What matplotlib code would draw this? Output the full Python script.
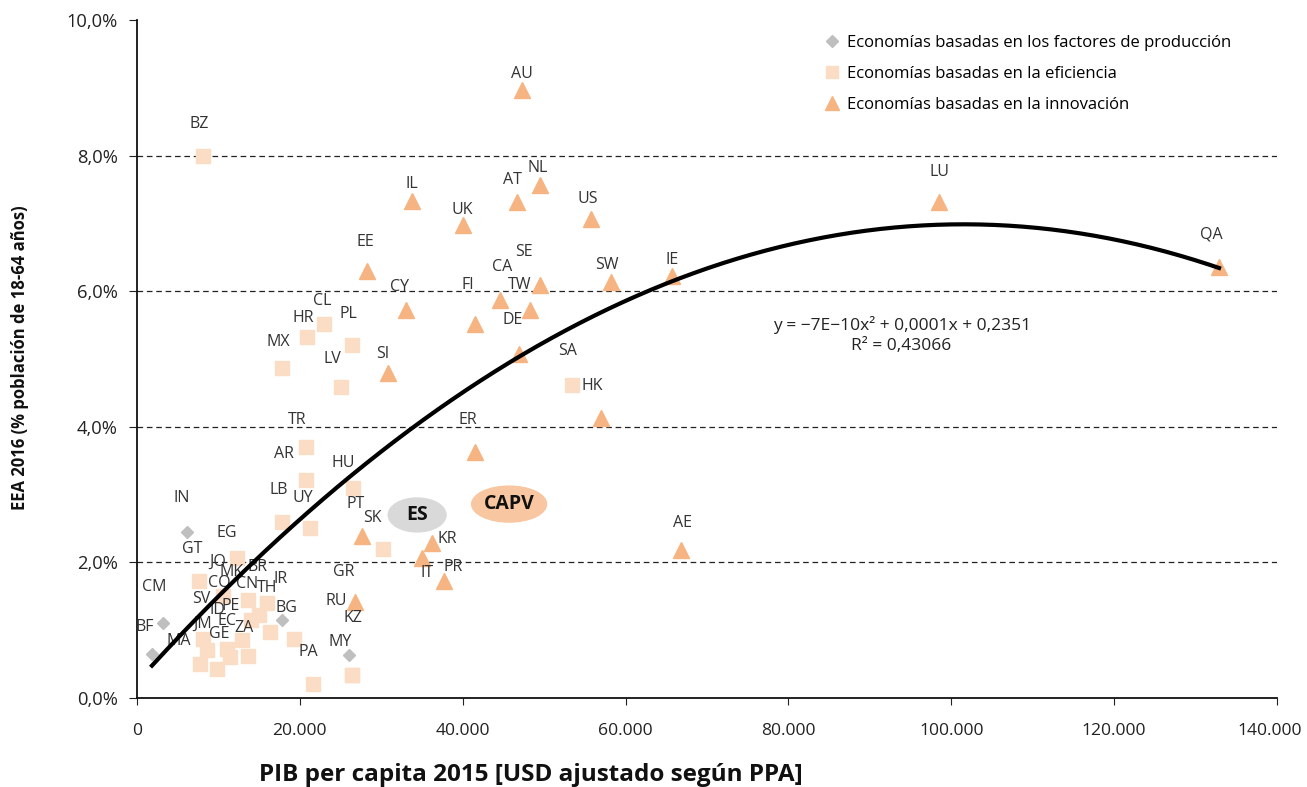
import numpy as np
import matplotlib
matplotlib.use("Agg")
import matplotlib.pyplot as plt
from matplotlib.patches import Ellipse
from matplotlib.transforms import ScaledTranslation

plt.rcParams["font.family"] = ["Open Sans", "DejaVu Sans"]

# Economías basadas en los factores de producción (PIB en USD, EEA en %)
factor_codes = ["IN", "CM", "BF", "IR", "KZ"]
factor_pib = [6140, 3190, 1840, 17810, 26030]
factor_eea = [2.45, 1.10, 0.65, 1.15, 0.63]

# Economías basadas en la eficiencia
eff_codes = ["EG", "GT", "JO", "MK", "BR", "TH", "CN", "MA", "BG", "CO",
             "SV", "ID", "PE", "EC", "ZA", "JM", "GE", "PA", "MY", "RU",
             "SK", "LB", "UY", "HU", "AR", "TR", "LV", "MX", "HR", "CL",
             "PL", "BZ", "SA"]
eff_pib = [12280, 7610, 10560, 13630, 15960, 14980, 14000, 16330, 19280, 12890,
           8110, 8600, 11050, 11420, 13630, 7740, 9820, 21610, 26400, 26400,
           30210, 17810, 21250, 26530, 20750, 20750, 25050, 17810, 20880, 22960,
           26400, 8110, 53420]
eff_eea = [2.07, 1.72, 1.51, 1.44, 1.40, 1.22, 1.15, 0.97, 0.87, 0.85,
           0.87, 0.71, 0.73, 0.60, 0.62, 0.50, 0.43, 0.21, 0.34, 0.34,
           2.20, 2.60, 2.51, 3.10, 3.22, 3.70, 4.58, 4.86, 5.32, 5.52,
           5.20, 8.00, 4.61]

# Economías basadas en la innovación
inn_codes = ["AU", "IL", "NL", "AT", "UK", "US", "LU", "QA", "IE", "SW",
             "SE", "TW", "CA", "FI", "DE", "EE", "CY", "SI", "ER", "HK",
             "AE", "PT", "KR", "IT", "PR", "GR"]
inn_pib = [47280, 33770, 49490, 46670, 40030, 55750, 98490, 132880, 65680, 58210,
           49490, 48260, 44580, 41510, 46910, 28250, 33030, 30820, 41510, 56980,
           66810, 27630, 36230, 35000, 37700, 26770]
inn_eea = [8.97, 7.33, 7.56, 7.31, 6.98, 7.06, 7.31, 6.36, 6.23, 6.14,
           6.09, 5.73, 5.87, 5.52, 5.07, 6.30, 5.73, 4.79, 3.63, 4.13,
           2.19, 2.39, 2.28, 2.06, 1.72, 1.42]

# Regiones destacadas
highlight_names = ["ES", "CAPV"]
highlight_pib = [34400, 45700]
highlight_eea = [2.70, 2.86]

# Línea de tendencia polinómica (EEA % frente a PIB USD)
trend_coef = [-6.55e-10, 1.33e-4, 0.2351]

x_ticks = [0, 20000, 40000, 60000, 80000, 100000, 120000, 140000]
x_tick_labels = ["0", "20.000", "40.000", "60.000", "80.000", "100.000", "120.000", "140.000"]
y_ticks = [0, 2, 4, 6, 8, 10]
y_tick_labels = ["0,0%", "2,0%", "4,0%", "6,0%", "8,0%", "10,0%"]
grid_levels = [2, 4, 6, 8]

# desplazamiento de cada etiqueta respecto a su punto (píxeles)
label_offsets = {
    "IN": (-5, 34), "CM": (-9, 36), "BF": (-7, 27), "IR": (-1, 41), "KZ": (4, 37),
    "EG": (-10, 25), "GT": (-7, 32), "JO": (-5, 34), "MK": (-16, 28), "BR": (-9, 36),
    "TH": (8, 27), "CN": (-4, 36), "MA": (-91, -9), "BG": (-8, 31), "CO": (-23, 57),
    "SV": (-2, 40), "ID": (10, 40), "PE": (4, 43), "EC": (-3, 36), "ZA": (-4, 28),
    "JM": (3, 40), "GE": (2, 35), "PA": (-5, 32), "MY": (-12, 33), "RU": (-16, 74),
    "SK": (-11, 31), "LB": (-3, 32), "UY": (-7, 30), "HU": (-10, 25), "AR": (-22, 26),
    "TR": (-9, 27), "LV": (-9, 28), "MX": (-4, 26), "HR": (-4, 19), "CL": (-2, 23),
    "PL": (-4, 31), "BZ": (-4, 32), "SA": (-4, 34),
    "AU": (0, 16), "IL": (0, 17), "NL": (-2, 17), "AT": (-5, 22), "UK": (-1, 15),
    "US": (-3, 20), "LU": (1, 30), "QA": (-8, 32), "IE": (0, 16), "SW": (-4, 17),
    "SE": (-16, 33), "TW": (-10, 25), "CA": (2, 33), "FI": (-7, 39), "DE": (-6, 34),
    "EE": (-2, 29), "CY": (-6, 23), "SI": (-5, 19), "ER": (-7, 32), "HK": (-9, 32),
    "AE": (1, 27), "PT": (-6, 32), "KR": (15, 4), "IT": (5, -15), "PR": (9, 14),
    "GR": (-11, 30),
}

fig = plt.figure(figsize=(13.07, 7.87), dpi=100)
ax = fig.add_axes([137 / 1307, 1 - 698 / 787, 1140 / 1307, 678 / 787])

for lvl in grid_levels:
    ax.axhline(lvl, color="#222222", lw=0.9, ls=(0, (4.5, 3)), zorder=1)

ax.plot(eff_pib, eff_eea, ls="none", marker="s", ms=10, color="#fbdcc4",
        label="Economías basadas en la eficiencia", zorder=3)
ax.plot(factor_pib, factor_eea, ls="none", marker="D", ms=6.5, color="#bfbfbf",
        label="Economías basadas en los factores de producción", zorder=3)
ax.plot(inn_pib, inn_eea, ls="none", marker="^", ms=11, color="#f6b482",
        label="Economías basadas en la innovación", zorder=4)

for codes, xs, ys in [(factor_codes, factor_pib, factor_eea),
                      (eff_codes, eff_pib, eff_eea),
                      (inn_codes, inn_pib, inn_eea)]:
    for c, x, y in zip(codes, xs, ys):
        ax.annotate(c, (x, y), xytext=label_offsets[c], textcoords="offset pixels",
                    ha="center", va="center", fontsize=11.5, color="#333333", zorder=5)

# tendencia
all_x = factor_pib + eff_pib + inn_pib
xt = np.linspace(min(all_x), max(all_x), 300)
ax.plot(xt, np.polyval(trend_coef, xt), color="black", lw=3, zorder=6)
ax.text(93900, 5.35, "y = \u22127E\u221210x\u00b2 + 0,0001x + 0,2351\nR\u00b2 = 0,43066",
        ha="center", va="center", fontsize=12.5, color="#222222", linespacing=1.35)

# ES y CAPV
for name, x, y, w, h, col in zip(highlight_names, highlight_pib, highlight_eea,
                                 [7100, 9200], [0.50, 0.53], ["#d9d9d9", "#f8c6a0"]):
    ax.add_patch(Ellipse((x, y), w, h, color=col, zorder=5))
    ax.text(x, y, name, ha="center", va="center", fontsize=14, fontweight="bold",
            color="#111111", zorder=6)

ax.set_xlim(0, 140000)
ax.set_ylim(0, 10)
ax.set_xticks(x_ticks)
ax.set_xticklabels(x_tick_labels)
ax.set_yticks(y_ticks)
ax.set_yticklabels(y_tick_labels)
ax.tick_params(axis="x", length=5, pad=13, labelsize=12.6, colors="#222222")
ax.tick_params(axis="y", length=6, pad=8, labelsize=13.2, colors="#222222")
# la última etiqueta del eje x se desplaza un poco para no salirse
last = ax.get_xticklabels()[-1]
last.set_transform(last.get_transform() + ScaledTranslation(-5 / 72, 0, fig.dpi_scale_trans))
for s in ["top", "right"]:
    ax.spines[s].set_visible(False)
for s in ["left", "bottom"]:
    ax.spines[s].set_linewidth(1.3)
    ax.spines[s].set_color("#111111")

handles, labels = ax.get_legend_handles_labels()
order = [1, 0, 2]
ax.legend([handles[i] for i in order], [labels[i] for i in order],
          loc="upper left", bbox_to_anchor=(825 / 1307, 1 - 35 / 787),
          bbox_transform=fig.transFigure, frameon=False, fontsize=12.0,
          handlelength=0.8, handletextpad=0.55, labelspacing=0.9,
          borderpad=0, borderaxespad=0, markerscale=0.9)

fig.text(20 / 1307, 1 - 358 / 787, "EEA 2016 (% población de 18-64 años)", rotation=90,
         ha="center", va="center", fontsize=12, fontweight="bold", color="#111111")
fig.text(531 / 1307, 1 - 775 / 787, "PIB per capita 2015 [USD ajustado según PPA]",
         ha="center", va="center", fontsize=17.5, fontweight="bold", color="#111111")

fig.savefig("out.png", dpi=100)
